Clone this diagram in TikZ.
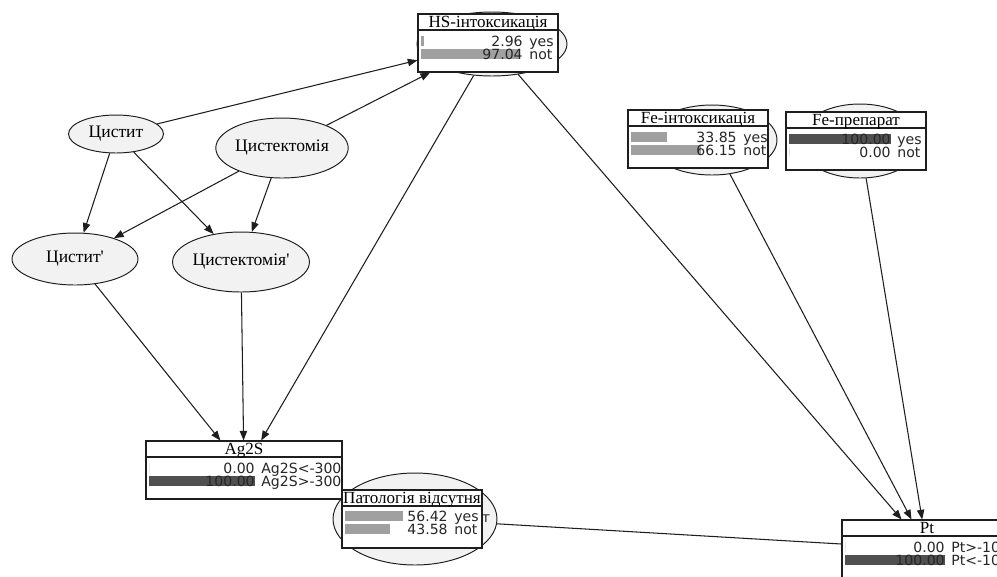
\documentclass[tikz,border=0pt]{standalone}
\usepackage{fontspec}
\setmainfont{Liberation Serif}[Ligatures=TeXOff]
\newfontfamily\statefont{DejaVu Sans}
\usetikzlibrary{arrows.meta,shapes.geometric}
\definecolor{nodegray}{RGB}{242, 242, 242}
\definecolor{barlight}{RGB}{160, 160, 160}
\definecolor{bardark}{RGB}{80, 80, 80}
\definecolor{edgeblack}{RGB}{30, 30, 30}

% monitor box: name, left x, top y, width, title
\newcommand{\probbox}[5]{%
    \node[monitor, minimum width=#4*0.02cm] (#1) at ({#2+#4/2}, {#3+29}) {};
    \draw[sepline] (#2, #3+16) -- (#2+#4, #3+16);
    \node[montitle] (#1-title) at ({#2+#4/2}, {#3+13.5}) {#5};
}
% one state row: name, box left, value column, row y, percent, value, state, bar colour
\newcommand{\probrow}[8]{%
    \fill[#8] (#2+3, #4-5) rectangle ({#2+3+#5/100*(#3-#2-3)}, #4+5);
    \node[monvalue, anchor=base east] (#1-v) at (#3, #4+5) {#6};
    \node[monvalue, anchor=base west] (#1-s) at (#3+6, #4+5) {#7};
}

\begin{document}
\begin{tikzpicture}[
    x=0.02cm, y=-0.02cm,
    chance/.style={
        ellipse,
        draw=edgeblack,
        fill=nodegray,
        line width=0.55pt,
        inner sep=0pt,
        font=\fontsize{10}{12}\selectfont
    },
    monitor/.style={
        rectangle,
        draw=edgeblack,
        fill=white,
        line width=0.6pt,
        minimum height=1.16cm,
        inner sep=0pt
    },
    sepline/.style={
        draw=edgeblack,
        line width=0.6pt
    },
    montitle/.style={
        anchor=base,
        inner sep=0pt,
        font=\fontsize{9.7}{12}\selectfont
    },
    monvalue/.style={
        inner sep=0pt,
        text=black!85,
        font=\statefont\fontsize{8}{9.5}\selectfont
    },
    link/.style={
        -{Triangle[length=5.5pt, width=4.2pt]},
        draw=edgeblack,
        line width=0.6pt
    },
    plainlink/.style={
        draw=edgeblack,
        line width=0.6pt
    }
]
    \useasboundingbox (0, 0) rectangle (997, 576);
    \clip (0, 0) rectangle (997, 576);
    \fill[white] (0, 0) rectangle (997, 576);

    % =========================================================================
    % 1. PLAIN CHANCE NODES
    % =========================================================================
    \node[chance, minimum width=1.9cm, minimum height=0.76cm] (cystyt) at (116, 134) {Цистит};
    \node[chance, minimum width=2.54cm, minimum height=1.2cm] (cystekt) at (282, 148) {Цистектомія};
    \node[chance, minimum width=2.52cm, minimum height=1.04cm] (cystyt2) at (75, 259) {Цистит'};
    \node[chance, minimum width=2.44cm, minimum height=1.2cm] (cystekt2) at (241, 262) {Цистектомія'};

    % =========================================================================
    % 2. CHANCE NODES BEHIND THE MONITORS
    % =========================================================================
    \node[chance, minimum width=3.0cm, minimum height=1.28cm] (hsell) at (492, 44) {};
    \node[chance, minimum width=2.6cm, minimum height=1.4cm] (feintell) at (712, 140) {};
    \node[chance, minimum width=2.48cm, minimum height=1.48cm] (feprepell) at (860, 141) {};
    \node[chance, minimum width=3.28cm, minimum height=1.84cm] (patell) at (415, 519) {};
    \node[monvalue] (patmark) at (486, 519) {т};

    % =========================================================================
    % 3. MONITOR BOXES
    % =========================================================================
    % HS-intoxication
    \probbox{hs}{418}{14}{140}{HS-інтоксикація}
    \probrow{hsyes}{418}{523}{41}{2.96}{2.96}{yes}{barlight}
    \probrow{hsnot}{418}{523}{54}{97.04}{97.04}{not}{barlight}

    % Fe-intoxication
    \probbox{feint}{628}{110}{140}{Fe-інтоксикація}
    \probrow{feintyes}{628}{737}{137}{33.85}{33.85}{yes}{barlight}
    \probrow{feintnot}{628}{737}{150}{66.15}{66.15}{not}{barlight}

    % Fe-preparation
    \probbox{feprep}{786}{112}{140}{Fe-препарат}
    \probrow{feprepyes}{786}{891}{139}{100}{100.00}{yes}{bardark}
    \probrow{feprepnot}{786}{891}{152}{0}{0.00}{not}{bardark}

    % Ag2S
    \probbox{ag}{146}{441}{196}{Ag2S}
    \probrow{aglow}{146}{255}{468}{0}{0.00}{Ag2S<-300}{bardark}
    \probrow{aghigh}{146}{255}{481}{100}{100.00}{Ag2S>-300}{bardark}

    % no pathology
    \probbox{pat}{342}{490}{140}{Патологія відсутня}
    \probrow{patyes}{342}{448}{516}{56.42}{56.42}{yes}{barlight}
    \probrow{patnot}{342}{448}{529}{43.58}{43.58}{not}{barlight}

    % Pt
    \probbox{pt}{842}{520}{170}{Pt}
    \probrow{pthigh}{842}{945}{547}{0}{0.00}{Pt>-100}{bardark}
    \probrow{ptlow}{842}{945}{560}{100}{100.00}{Pt<-100}{bardark}

    % =========================================================================
    % 4. LINKS
    % =========================================================================
    \draw[link] (cystyt) -- (hs);
    \draw[link] (cystekt) -- (hs);
    \draw[link] (cystyt) -- (cystyt2);
    \draw[link] (cystyt) -- (cystekt2);
    \draw[link] (cystekt) -- (cystyt2);
    \draw[link] (cystekt) -- (cystekt2);
    \draw[link] (cystyt2) -- (ag);
    \draw[link] (cystekt2) -- (ag);
    \draw[link] (hsell) -- (ag);
    \draw[link] (hsell) -- (pt);
    \draw[link] (feintell) -- (pt);
    \draw[link] (feprepell) -- (pt);
    \draw[plainlink] (patell) -- (pt);

\end{tikzpicture}
\end{document}
